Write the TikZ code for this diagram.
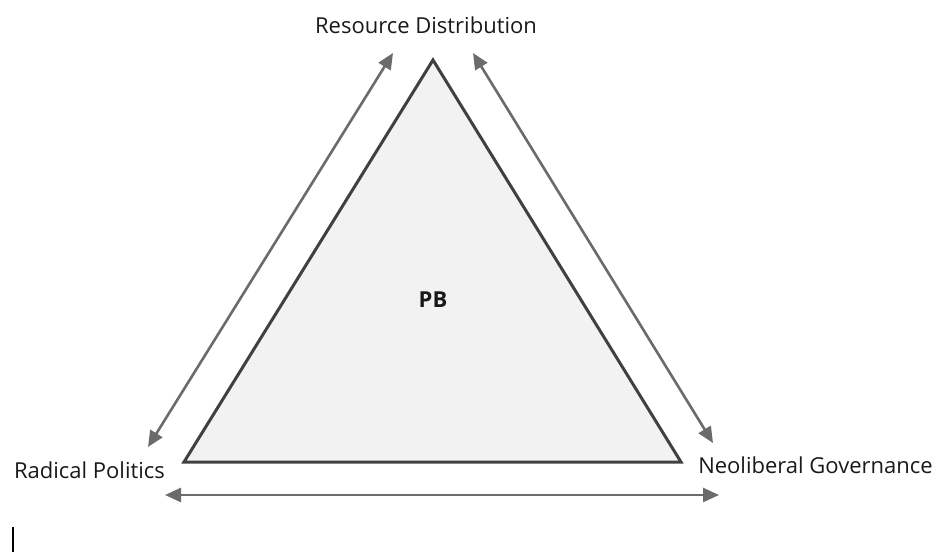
\documentclass[tikz,border=0pt]{standalone}
\usepackage{fontspec}
\setmainfont{Open Sans}
\usetikzlibrary{arrows.meta}
\begin{document}
\begin{tikzpicture}[x=1pt,y=-1pt,
  lbl/.style={font=\fontsize{22}{26}\selectfont, text=black!90, inner sep=0pt},
  dbl/.style={draw=black!58, line width=2.6pt, {Triangle[length=16pt,width=14pt]}-{Triangle[length=16pt,width=14pt]}},
  tri/.style={draw=black!75, line width=3pt, fill=black!5, line join=miter}]
\useasboundingbox (0,0) rectangle (936,552);
\coordinate (A) at (433,60);
\coordinate (L) at (184,462);
\coordinate (R) at (681,462);
\filldraw[tri] (A) -- (L) -- (R) -- cycle;
\node[lbl, font=\fontsize{22}{26}\selectfont\bfseries] (pb) at (433,300) {PB};
\node[lbl] (rd) at (426,25) {Resource Distribution};
\node[lbl] (rp) at (89.5,470) {Radical Politics};
\node[lbl] (ng) at (815.5,465) {Neoliberal Governance};
\coordinate (l1) at (148,447);
\coordinate (l2) at (393,53);
\coordinate (r1) at (473,53);
\coordinate (r2) at (713,443);
\coordinate (b1) at (165,495);
\coordinate (b2) at (719,495);
\draw[dbl] (l1) -- (l2);
\draw[dbl] (r1) -- (r2);
\draw[dbl] (b1) -- (b2);
\coordinate (c1) at (13,527);
\coordinate (c2) at (13,552);
\draw[line width=2.5pt, black] (c1) -- (c2);
\end{tikzpicture}
\end{document}
